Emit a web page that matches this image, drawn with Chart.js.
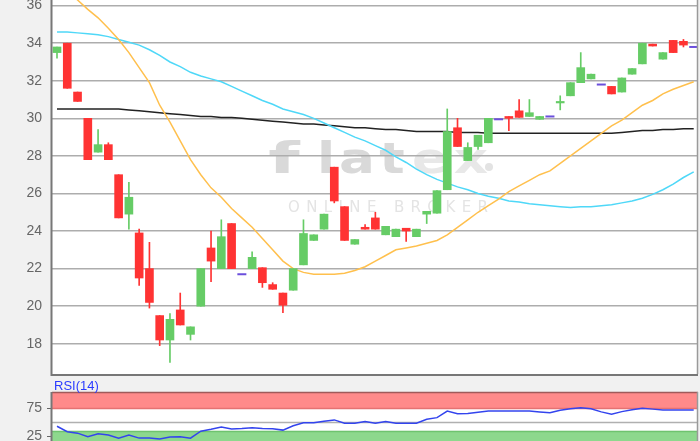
<!DOCTYPE html>
<html><head><meta charset="utf-8">
<script src="https://cdn.jsdelivr.net/npm/chart.js@4/dist/chart.umd.min.js"></script>
<style>
html,body{margin:0;padding:0;width:700px;height:441px;overflow:hidden;background:#f1f1f1;}
#wrap{position:relative;width:700px;height:441px;overflow:hidden;}
#main{position:absolute;left:0;top:-20px;width:700px;height:414px;}
#rsi{position:absolute;left:0;top:372px;width:700px;height:93px;}
#rsiLabel{position:absolute;left:54px;top:378px;font:13px "Liberation Sans",Arial,sans-serif;color:#2b3bff;}
</style></head>
<body><div id="wrap">
<canvas id="main" width="700" height="414"></canvas>
<canvas id="rsi" width="700" height="93"></canvas>
<div id="rsiLabel">RSI(14)</div>
</div>
<script>
// ---- data ----
const opens  = [33.5,34.0,31.4,30.0,28.2,28.6,27.0,24.9,23.9,22.0,19.5,18.2,19.8,18.5,20.0,23.1,22.0,24.4,21.7,22.0,22.05,21.15,20.7,20.85,22.2,23.5,24.1,27.4,25.3,23.3,24.2,24.7,23.8,23.7,24.15,23.7,24.9,24.95,26.2,29.5,27.75,28.5,28.7,29.95,30.1,30.4,30.1,29.95,30.1,30.82,31.2,31.9,32.1,31.8,31.7,31.4,32.35,32.9,33.95,33.15,34.15,34.1,33.8];
const closes = [33.8,31.6,30.9,27.8,28.6,27.8,24.7,25.8,21.5,20.2,18.2,19.3,19.0,18.9,22.0,22.4,23.7,22.0,21.7,22.6,21.25,20.9,20.05,22.0,23.87,23.8,24.9,25.6,23.5,23.55,24.1,24.1,24.25,24.1,24.0,24.1,25.05,26.15,29.3,28.5,28.45,29.1,30.0,29.95,30.0,30.05,30.3,30.1,30.1,30.9,31.9,32.7,32.35,31.8,31.3,32.15,32.65,34.0,33.85,33.5,33.5,33.9,33.8];
const highs  = [33.8,34.0,31.4,30.0,29.4,28.7,27.0,26.6,24.1,23.4,19.5,19.6,20.7,18.9,22.0,24.0,24.6,24.4,21.7,22.9,22.05,21.25,20.7,22.0,24.6,23.8,24.9,27.4,25.3,23.55,24.35,25.0,24.25,24.1,24.15,24.1,25.05,26.15,30.5,30.0,28.7,29.1,30.0,29.95,30.1,31.0,31.0,30.1,30.1,31.2,31.9,33.5,32.35,31.8,31.7,32.15,32.65,34.0,33.95,33.5,34.15,34.2,33.8];
const lows   = [33.2,31.6,30.9,27.8,28.2,27.8,24.7,24.1,21.1,19.9,17.9,17.0,19.0,18.2,20.0,21.3,22.0,22.0,21.7,22.0,21.0,20.9,19.65,20.85,22.2,23.5,24.1,25.5,23.5,23.3,24.1,24.1,23.8,23.7,23.45,23.7,24.4,24.95,26.2,28.5,27.75,28.35,28.7,29.95,29.35,30.05,30.1,29.95,30.1,30.45,31.2,31.9,32.1,31.8,31.3,31.4,32.35,32.9,33.85,33.15,33.5,33.8,33.8];
const maShort = [37.3,36.8,36.3,35.8,35.35,34.8,34.2,33.5,32.7,31.9,30.7,29.8,28.8,27.8,27.0,26.3,25.8,25.2,24.7,24.2,23.6,23.0,22.4,22.0,21.8,21.7,21.7,21.7,21.75,21.9,22.1,22.4,22.7,23.0,23.1,23.2,23.35,23.5,23.8,24.2,24.6,25.0,25.35,25.7,26.1,26.4,26.7,27.0,27.2,27.6,28.0,28.4,28.8,29.2,29.6,29.9,30.3,30.7,30.95,31.3,31.55,31.75,31.95];
const maMid = [34.6,34.6,34.55,34.5,34.45,34.35,34.2,34.05,33.9,33.65,33.35,33.0,32.75,32.45,32.25,32.1,31.95,31.7,31.45,31.2,30.95,30.75,30.5,30.35,30.2,30.0,29.75,29.5,29.25,29.0,28.8,28.55,28.3,27.95,27.65,27.3,27.0,26.75,26.55,26.35,26.2,26.0,25.85,25.75,25.6,25.55,25.45,25.4,25.35,25.3,25.25,25.3,25.3,25.35,25.4,25.5,25.6,25.75,25.95,26.2,26.5,26.85,27.15];
const maLong = [30.5,30.5,30.5,30.5,30.5,30.5,30.5,30.45,30.4,30.35,30.3,30.25,30.2,30.15,30.1,30.1,30.05,30.05,30.0,29.95,29.9,29.85,29.8,29.75,29.7,29.7,29.65,29.6,29.55,29.5,29.5,29.45,29.4,29.4,29.35,29.3,29.3,29.3,29.3,29.25,29.25,29.25,29.2,29.2,29.2,29.2,29.2,29.2,29.2,29.2,29.2,29.2,29.2,29.2,29.2,29.25,29.3,29.35,29.35,29.4,29.4,29.45,29.45];
const rsiValues = [43,33,30.5,24,29.5,27,21.5,27,21.5,21.5,20,23.5,23.8,21.5,34,37.5,41.5,38,39,40.5,38.8,38.5,36,44,49.5,49.5,52,54.5,48.5,48.5,51.4,48.5,51.4,48.5,48.5,48.5,55.5,58.6,70.5,65.8,66,68.5,70.5,70.7,70.7,70.7,70.7,69,67.6,72,74.5,76.7,74.5,69,64.8,69.5,73,75.6,74,72.5,72.5,72.5,72.5];
const priceTicks = [18,20,22,24,26,28,30,32,34,36];
const rsiTicks = [25,75];
const rsiUpperBand = 75;
const rsiLowerBand = 34.5;
const rsiMidLine = 50;

// ---- build datasets ----
const UP='#66cc66', DOWN='#ff3333', FLAT='#6b4fdc';
const idx = opens.map((_, i) => i);
const isDoji = i => opens[i] === closes[i];
const colorOf = i => closes[i] > opens[i] ? UP : DOWN;
const candleIdx = idx.filter(i => !isDoji(i));
const bodyData = candleIdx.map(i => ({x:i, y:[opens[i], closes[i]]}));
const wickData = candleIdx.map(i => ({x:i, y:[lows[i], highs[i]]}));
const candleColors = candleIdx.map(colorOf);
const dojiData = idx.filter(isDoji).map(i => ({x:i, y:closes[i]}));
const series = arr => arr.map((v, i) => ({x:i, y:v}));

Chart.defaults.font.family = '"Liberation Sans", Arial, sans-serif';
Chart.defaults.animation = false;

const X_MIN = -0.487, X_MAX = 62.32;
const xScale = () => ({type:'linear', min:X_MIN, max:X_MAX, display:false, offset:false, grid:{offset:false}, bounds:'data'});

const mainBg = {
  id:'mainBg',
  beforeDraw(chart){
    const {ctx, chartArea:a} = chart;
    ctx.save();
    ctx.fillStyle = '#ffffff';
    ctx.fillRect(a.left, a.top, a.right - a.left, a.bottom - a.top);
    // watermark
    const oy = 20; // canvas offset
    ctx.textBaseline = 'alphabetic';
    ctx.textAlign = 'center';
    ctx.font = 'bold 38px "DejaVu Sans"';
    const big = [['f',284,'#d9d9d9'],['l',326,'#d9d9d9'],['a',357,'#d9d9d9'],['t',392,'#d9d9d9'],['e',430,'#e8e8e8'],['x',471,'#e8e8e8']];
    big.forEach(([c,x,col]) => {
      ctx.save();
      ctx.translate(x, 173 + oy);
      ctx.scale(c === 'f' ? 1.9 : 1.4, 1.12);
      ctx.fillStyle = col; ctx.fillText(c, 0, 0);
      ctx.restore();
    });
    ctx.fillStyle = '#e3e3e3';
    ctx.beginPath(); ctx.arc(489, 167 + oy, 4, 0, Math.PI*2); ctx.fill();
    ctx.font = '15px "DejaVu Sans"';
    ctx.textAlign = 'left';
    ctx.fillStyle = '#e4e4e4';
    const txt = 'ONLINE BROKER';
    let total = 0; for (const c of txt) total += ctx.measureText(c).width;
    const sp = (200 - total) / (txt.length - 1);
    let x = 288;
    for (const c of txt) { ctx.fillText(c, x, 212 + oy); x += ctx.measureText(c).width + sp; }
    ctx.restore();
  },
  afterDraw(chart){
    const {ctx, chartArea:a} = chart;
    ctx.save();
    ctx.lineWidth = 1.5; ctx.strokeStyle = '#9a9a9a';
    ctx.beginPath(); ctx.moveTo(a.right + 0.5, a.top); ctx.lineTo(a.right + 0.5, a.bottom); ctx.stroke();
    ctx.lineWidth = 2; ctx.strokeStyle = '#777';
    ctx.beginPath(); ctx.moveTo(a.left - 0.5, a.top); ctx.lineTo(a.left - 0.5, a.bottom + 1);
    ctx.lineTo(a.right + 1, a.bottom + 1); ctx.stroke();
    ctx.restore();
  }
};

new Chart(document.getElementById('main'), {
  type:'line',
  data:{ datasets:[
    {type:'line', data:series(maShort), borderColor:'#ffc04d', borderWidth:1.5, pointRadius:0, order:3},
    {type:'line', data:series(maMid), borderColor:'#4fd8f8', borderWidth:1.5, pointRadius:0, order:3},
    {type:'line', data:series(maLong), borderColor:'#222222', borderWidth:1.5, pointRadius:0, order:3},
    {type:'bar', data:wickData, backgroundColor:candleColors, barThickness:1, grouped:false, order:2},
    {type:'bar', data:bodyData, backgroundColor:candleColors, barThickness:8, grouped:false, order:1},
    {type:'line', data:dojiData, showLine:false, pointStyle:'line', pointRadius:4.5, borderColor:FLAT, backgroundColor:FLAT, borderWidth:2, order:0}
  ]},
  options:{
    responsive:false, events:[],
    layout:{padding:{top:20,bottom:20,left:0,right:3}, autoPadding:false},
    plugins:{legend:{display:false}, tooltip:{enabled:false}},
    scales:{
      x:xScale(),
      y:{type:'linear', min:16.39, max:36.30, offset:false, beginAtZero:false,
         afterFit(s){ s.width = 52; },
         afterBuildTicks(s){ s.ticks = priceTicks.map(v => ({value:v})); },
         border:{display:false},
         grid:{color:'#adadad', lineWidth:1.5, drawTicks:false, offset:false},
         ticks:{color:'#666', padding:10, font:{size:14}}
      }
    }
  },
  plugins:[mainBg]
});

const rsiBg = {
  id:'rsiBg',
  beforeDraw(chart){
    const {ctx, chartArea:a, scales:{y}} = chart;
    const w = a.right - a.left;
    ctx.save();
    ctx.fillStyle = '#ffffff';
    ctx.fillRect(a.left, a.top, w, a.bottom - a.top);
    const yU = y.getPixelForValue(rsiUpperBand);
    ctx.fillStyle = '#ff8a8a';
    ctx.fillRect(a.left, a.top, w, yU - a.top);
    const yL = y.getPixelForValue(rsiLowerBand);
    ctx.fillStyle = '#8dd88d';
    ctx.fillRect(a.left, yL, w, a.bottom - yL);
    ctx.lineWidth = 1.5;
    ctx.strokeStyle = '#e57272';
    ctx.beginPath(); ctx.moveTo(a.left, yU); ctx.lineTo(a.right, yU); ctx.stroke();
    ctx.strokeStyle = '#6fc36f';
    ctx.beginPath(); ctx.moveTo(a.left, yL + 0.5); ctx.lineTo(a.right, yL + 0.5); ctx.stroke();
    ctx.strokeStyle = '#b0b0b0';
    const yM = y.getPixelForValue(rsiMidLine);
    ctx.beginPath(); ctx.moveTo(a.left, yM); ctx.lineTo(a.right, yM); ctx.stroke();
    ctx.restore();
  },
  afterDraw(chart){
    const {ctx, chartArea:a} = chart;
    ctx.save();
    ctx.lineWidth = 1.5; ctx.strokeStyle = '#a05a5a';
    ctx.beginPath(); ctx.moveTo(a.left, a.top + 0.5); ctx.lineTo(a.right + 1, a.top + 0.5); ctx.stroke();
    ctx.strokeStyle = '#9a9a9a';
    ctx.beginPath(); ctx.moveTo(a.right + 0.5, a.top); ctx.lineTo(a.right + 0.5, a.bottom); ctx.stroke();
    ctx.lineWidth = 2; ctx.strokeStyle = '#777';
    ctx.beginPath(); ctx.moveTo(a.left - 0.5, a.top); ctx.lineTo(a.left - 0.5, a.bottom); ctx.stroke();
    ctx.restore();
  }
};

new Chart(document.getElementById('rsi'), {
  type:'line',
  data:{ datasets:[
    {data:series(rsiValues), borderColor:'#3344ee', borderWidth:1.5, pointRadius:0}
  ]},
  options:{
    responsive:false, events:[],
    layout:{padding:{top:20,bottom:15,left:0,right:3}, autoPadding:false},
    plugins:{legend:{display:false}, tooltip:{enabled:false}},
    scales:{
      x:xScale(),
      y:{type:'linear', min:0, max:105,
         afterFit(s){ s.width = 52; },
         afterBuildTicks(s){ s.ticks = rsiTicks.map(v => ({value:v})); },
         border:{display:false},
         grid:{drawOnChartArea:false, drawTicks:true, tickLength:5, color:'#666'},
         ticks:{color:'#666', padding:5, font:{size:14}}
      }
    }
  },
  plugins:[rsiBg]
});
</script>
</body></html>
